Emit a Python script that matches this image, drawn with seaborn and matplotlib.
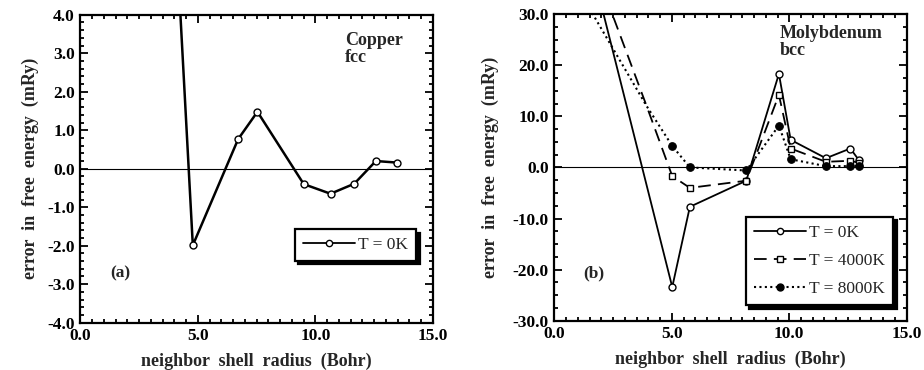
import matplotlib
matplotlib.use('Agg')
import matplotlib.pyplot as plt
import seaborn as sns
import pandas as pd
from matplotlib.lines import Line2D
from matplotlib.ticker import MultipleLocator, FormatStrFormatter

# copper fcc, T = 0K (first point lies above the plotted range)
cu_r = [3.9, 4.78, 6.71, 7.53, 9.5, 10.64, 11.65, 12.57, 13.45]
cu_err = [8.0, -1.99, 0.77, 1.48, -0.40, -0.65, -0.39, 0.20, 0.16]

# molybdenum bcc
mo_r0 = [1.0, 5.02, 5.77, 8.17, 9.56, 10.06, 11.56, 12.6, 12.97]
mo_e0 = [50.0, -23.4, -7.7, -2.6, 18.3, 5.4, 1.8, 3.7, 1.4]
mo_r4 = [1.0, 3.93, 5.02, 5.77, 8.17, 9.56, 10.06, 11.56, 12.6, 12.97]
mo_e4 = [48.0, 12.0, -1.7, -4.0, -2.6, 14.2, 3.7, 1.1, 1.3, 0.9]
mo_r8 = [1.0, 3.93, 5.02, 5.77, 8.17, 9.56, 10.06, 11.56, 12.6, 12.97]
mo_e8 = [35.0, 12.0, 4.2, 0.0, -0.6, 8.2, 1.6, 0.25, 0.25, 0.25]

labels = ['T = 0K', 'T = 4000K', 'T = 8000K']

sns.set_theme(style='ticks')
plt.rcParams['font.family'] = ['Liberation Serif', 'DejaVu Serif']
plt.rcParams['font.weight'] = 'bold'
plt.rcParams['axes.labelweight'] = 'bold'

fig = plt.figure(figsize=(9.24, 3.70), dpi=100)
ax1 = fig.add_axes([0.0871, 0.128, 0.3815, 0.832])
ax2 = fig.add_axes([0.5999, 0.133, 0.3814, 0.829])

dash = (0, (7, 4))
dot = (0, (1.0, 1.6))

# panel (a)
sns.lineplot(x=cu_r, y=cu_err, ax=ax1, sort=False, color='black', lw=1.8,
             marker='o', markersize=5, markerfacecolor='white',
             markeredgecolor='black', markeredgewidth=1.0,
             markevery=list(range(1, len(cu_r))))
ax1.set_ylim(-4, 4)
ax1.yaxis.set_major_locator(MultipleLocator(1))
ax1.yaxis.set_minor_locator(MultipleLocator(0.2))

# panel (b)
sns.lineplot(x=mo_r0, y=mo_e0, ax=ax2, sort=False, color='black', lw=1.3,
             marker='o', markersize=5, markerfacecolor='white',
             markeredgecolor='black', markeredgewidth=1.0,
             markevery=list(range(1, len(mo_r0))))
sns.lineplot(x=mo_r4, y=mo_e4, ax=ax2, sort=False, color='black', lw=1.3,
             linestyle=dash, marker='s', markersize=5, markerfacecolor='white',
             markeredgecolor='black', markeredgewidth=1.0,
             markevery=list(range(2, len(mo_r4))))
sns.lineplot(x=mo_r8, y=mo_e8, ax=ax2, sort=False, color='black', lw=1.5,
             linestyle=dot, marker='o', markersize=5.5, markerfacecolor='black',
             markeredgecolor='black', markevery=list(range(2, len(mo_r8))))
ax2.set_ylim(-30, 30)
ax2.yaxis.set_major_locator(MultipleLocator(10))
ax2.yaxis.set_minor_locator(MultipleLocator(2.5))

for ax in (ax1, ax2):
    ax.axhline(0, color='black', lw=0.8, zorder=0)
    ax.set_xlim(0, 15)
    ax.xaxis.set_major_locator(MultipleLocator(5))
    ax.xaxis.set_minor_locator(MultipleLocator(0.5))
    ax.xaxis.set_major_formatter(FormatStrFormatter('%.1f'))
    ax.yaxis.set_major_formatter(FormatStrFormatter('%.1f'))
    ax.tick_params(which='both', direction='in', top=True, right=True,
                   labelsize=12.5, colors='black', width=1.3)
    ax.tick_params(which='major', length=6, pad=4)
    ax.tick_params(which='minor', length=3)
    for lab in ax.get_xticklabels() + ax.get_yticklabels():
        lab.set_fontweight('bold')
    for s in ax.spines.values():
        s.set_linewidth(1.6)
        s.set_color('black')
    ax.set_xlabel('neighbor  shell  radius  (Bohr)', fontsize=13, labelpad=6)

ax1.set_ylabel('error  in  free  energy  (mRy)', fontsize=13, labelpad=6)
ax2.set_ylabel('error  in  free  energy  (mRy)', fontsize=13, labelpad=10)

ax1.text(0.75, 0.945, 'Copper\nfcc', transform=ax1.transAxes, fontsize=13,
         fontweight='bold', va='top', ha='left', linespacing=1.0)
ax2.text(0.64, 0.965, 'Molybdenum\nbcc', transform=ax2.transAxes, fontsize=13,
         fontweight='bold', va='top', ha='left', linespacing=1.0)
ax1.text(0.084, 0.161, '(a)', transform=ax1.transAxes, fontsize=12.5,
         fontweight='bold', va='center', ha='left')
ax2.text(0.081, 0.155, '(b)', transform=ax2.transAxes, fontsize=12.5,
         fontweight='bold', va='center', ha='left')

h0 = Line2D([], [], color='black', lw=1.3, marker='o', markersize=4.5,
            markerfacecolor='white', markeredgecolor='black')
h4 = Line2D([], [], color='black', lw=1.3, linestyle=dash, marker='s',
            markersize=4.5, markerfacecolor='white', markeredgecolor='black')
h8 = Line2D([], [], color='black', lw=1.5, linestyle=dot, marker='o',
            markersize=5, markerfacecolor='black', markeredgecolor='black')

legend_kw = dict(loc='upper left', borderaxespad=0, fancybox=False,
                 edgecolor='black', framealpha=1, handlelength=3.0,
                 handletextpad=0.2, borderpad=0.45,
                 prop={'family': 'Liberation Serif', 'size': 12.5, 'weight': 'normal'},
                 shadow={'color': 'black', 'alpha': 1, 'ox': 2.5, 'oy': -2.5})

leg1 = ax1.legend([h0], labels[:1], bbox_to_anchor=(0.6085, 0.304), **legend_kw)
leg2 = ax2.legend([h0, h4, h8], labels, bbox_to_anchor=(0.544, 0.339),
                  labelspacing=0.7, **legend_kw)
for leg in (leg1, leg2):
    leg.get_frame().set_linewidth(1.6)

plt.savefig('out.png', dpi=100)
